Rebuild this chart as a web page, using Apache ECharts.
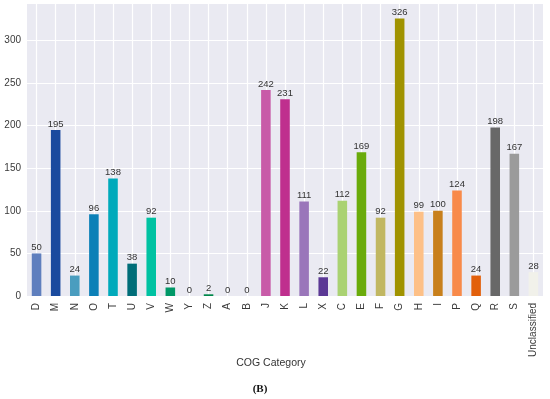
<!DOCTYPE html>
<html><head><meta charset="utf-8">
<script src="https://cdn.jsdelivr.net/npm/echarts@6/dist/echarts.min.js"></script>
<style>html,body{margin:0;padding:0;background:#fff}#c{width:550px;height:399px}</style>
</head><body><div id="c"></div>
<script>
const categories = ['D','M','N','O','T','U','V','W','Y','Z','A','B','J','K','L','X','C','E','F','G','H','I','P','Q','R','S','Unclassified'];
const counts = [50,195,24,96,138,38,92,10,0,2,0,0,242,231,111,22,112,169,92,326,99,100,124,24,198,167,28];
const colors = ['#5f7fbe','#1a4a9e','#4a9dbf','#0b80b7','#00aabb','#006d78','#00c2a2','#009867','#00875f','#00884a','#6a9fd0','#4b74b3','#c85ba8','#bf2f8e','#9a76ba','#5b3895','#aad272','#6aab0b','#c1b762','#a09300','#fdc087','#c8801c','#f88a4a','#e2600b','#686868','#9b9b9b','#f1f1ea'];
const yTicks = [0,50,100,150,200,250,300];

const chart = echarts.init(document.getElementById('c'), null, {renderer:'canvas'});
const font = 'Liberation Sans, Arial, sans-serif';
chart.setOption({
  animation:false,
  backgroundColor:'#fff',
  grid:{left:27,right:7,top:4,bottom:103,show:true,backgroundColor:'#eaeaf2',borderWidth:0},
  xAxis:{type:'category',data:categories,
     axisLine:{show:false},axisTick:{show:false},
     splitLine:{show:true,alignWithLabel:true,interval:0,lineStyle:{color:'#ffffff',width:1.2}},
     axisLabel:{interval:0,rotate:90,margin:7,fontSize:10,color:'#3a3a3a',fontFamily:font}},
  yAxis:{type:'value',min:0,max:343,interval:50,
     axisLine:{show:false},axisTick:{show:false},
     splitLine:{show:true,showMaxLine:false,lineStyle:{color:'#ffffff',width:1.2}},
     axisLabel:{showMaxLabel:false,margin:6,fontSize:10,color:'#3a3a3a',fontFamily:font,
       formatter:v=>yTicks.indexOf(v)>=0?String(v):''}},
  series:[{
    type:'bar',barWidth:'50%',
    data:counts.map((v,i)=>({value:v,itemStyle:{color:colors[i]}})),
    label:{show:true,position:'top',distance:1,fontSize:9.5,color:'#333',fontFamily:font}
  }],
  graphic:[
    {type:'text',style:{text:'COG Category',font:'10.5px Liberation Sans, Arial, sans-serif',fill:'#333',x:271,y:363,align:'center',verticalAlign:'middle'}},
    {type:'text',style:{text:'(B)',font:'bold 11px Liberation Serif, Times New Roman, serif',fill:'#111',x:260,y:389,align:'center',verticalAlign:'middle'}}
  ]
});
</script></body></html>
